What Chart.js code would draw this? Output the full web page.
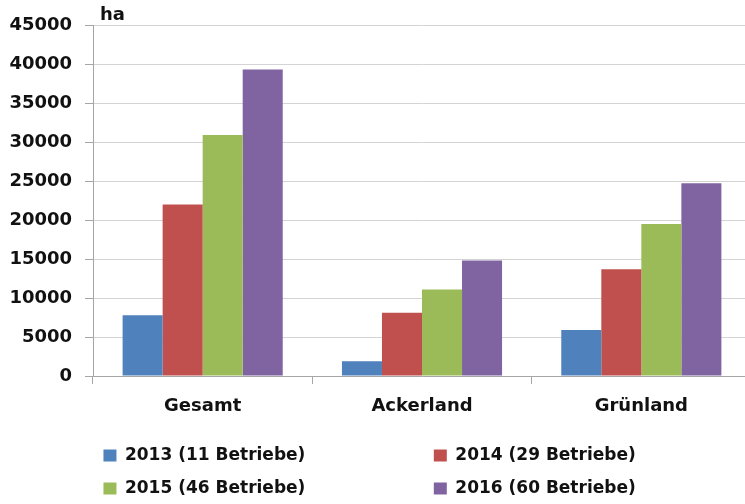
<!doctype html>
<html lang="de">
  <head>
    <meta charset="utf-8">
    <script src="https://cdn.jsdelivr.net/npm/chart.js@4.4.1/dist/chart.umd.min.js"></script>
    <title>Flaechen</title>
    <style>
      * {
        margin: 0;
        padding: 0;
      }
      body {
        background: white;
        overflow: hidden;
      }
      .chartBox {
        width: 751px;
        height: 504px;
      }
    </style>
  </head>
  <body>
    <div class="chartBox">
      <canvas id="myChart"></canvas>
    </div>
    <script>
    // Daten
    const categories = ['Gesamt', 'Ackerland', 'Grünland'];
    const seriesNames = ['2013 (11 Betriebe)', '2014 (29 Betriebe)', '2015 (46 Betriebe)', '2016 (60 Betriebe)'];
    const values2013 = [7800, 1900, 5900];
    const values2014 = [22000, 8100, 13700];
    const values2015 = [30900, 11100, 19500];
    const values2016 = [39300, 14800, 24700];
    const colors = ['#4f81bd', '#c0504d', '#9bbb59', '#8064a2'];
    const unitLabel = 'ha';

    const font = 'DejaVu Sans';
    const allValues = [values2013, values2014, values2015, values2016];

    // legend columns: pad first column so the second one lines up
    const legendPad = [19, 2, 19, 2];

    const haLabel = {
      id: 'haLabel',
      afterDraw(chart) {
        const ctx = chart.ctx;
        ctx.save();
        ctx.font = 'bold 18px "' + font + '"';
        ctx.fillStyle = '#111';
        ctx.textBaseline = 'middle';
        ctx.fillText(unitLabel, chart.chartArea.left + 7, 15);
        ctx.restore();
      }
    };

    new Chart(document.getElementById('myChart'), {
      type: 'bar',
      data: {
        labels: categories,
        datasets: seriesNames.map((name, i) => ({
          label: name,
          data: allValues[i],
          backgroundColor: colors[i],
          borderWidth: 0,
          barPercentage: 1,
          categoryPercentage: 0.73
        }))
      },
      options: {
        responsive: true,
        maintainAspectRatio: false,
        animation: false,
        layout: { padding: { top: 25, right: 0, bottom: -3, left: 0 } },
        plugins: {
          tooltip: { enabled: false },
          legend: {
            position: 'bottom',
            labels: {
              boxWidth: 13,
              boxHeight: 12,
              padding: 16,
              color: '#111',
              font: { family: font, size: 17, weight: 'bold' },
              generateLabels(chart) {
                const items = Chart.defaults.plugins.legend.labels.generateLabels(chart);
                items.forEach((it, i) => { it.text = it.text + ' '.repeat(legendPad[i]); });
                return items;
              }
            }
          }
        },
        scales: {
          x: {
            grid: {
              drawOnChartArea: false,
              tickLength: 8,
              tickColor: '#a6a6a6'
            },
            border: { color: '#a6a6a6' },
            ticks: {
              color: '#111',
              padding: 12,
              font: { family: font, size: 18, weight: 'bold' }
            },
            afterFit(scale) { scale.height = 55; }
          },
          y: {
            min: 0,
            max: 45000,
            grid: {
              color: '#d4d4d4',
              tickLength: 8,
              tickColor: '#a6a6a6'
            },
            border: { color: '#a6a6a6' },
            ticks: {
              stepSize: 5000,
              color: '#111',
              padding: 13,
              font: { family: font, size: 18, weight: 'bold' },
              callback: (v) => String(v)
            },
            afterFit(scale) { scale.width = 93; }
          }
        }
      },
      plugins: [haLabel]
    });
    </script>
  </body>
</html>
